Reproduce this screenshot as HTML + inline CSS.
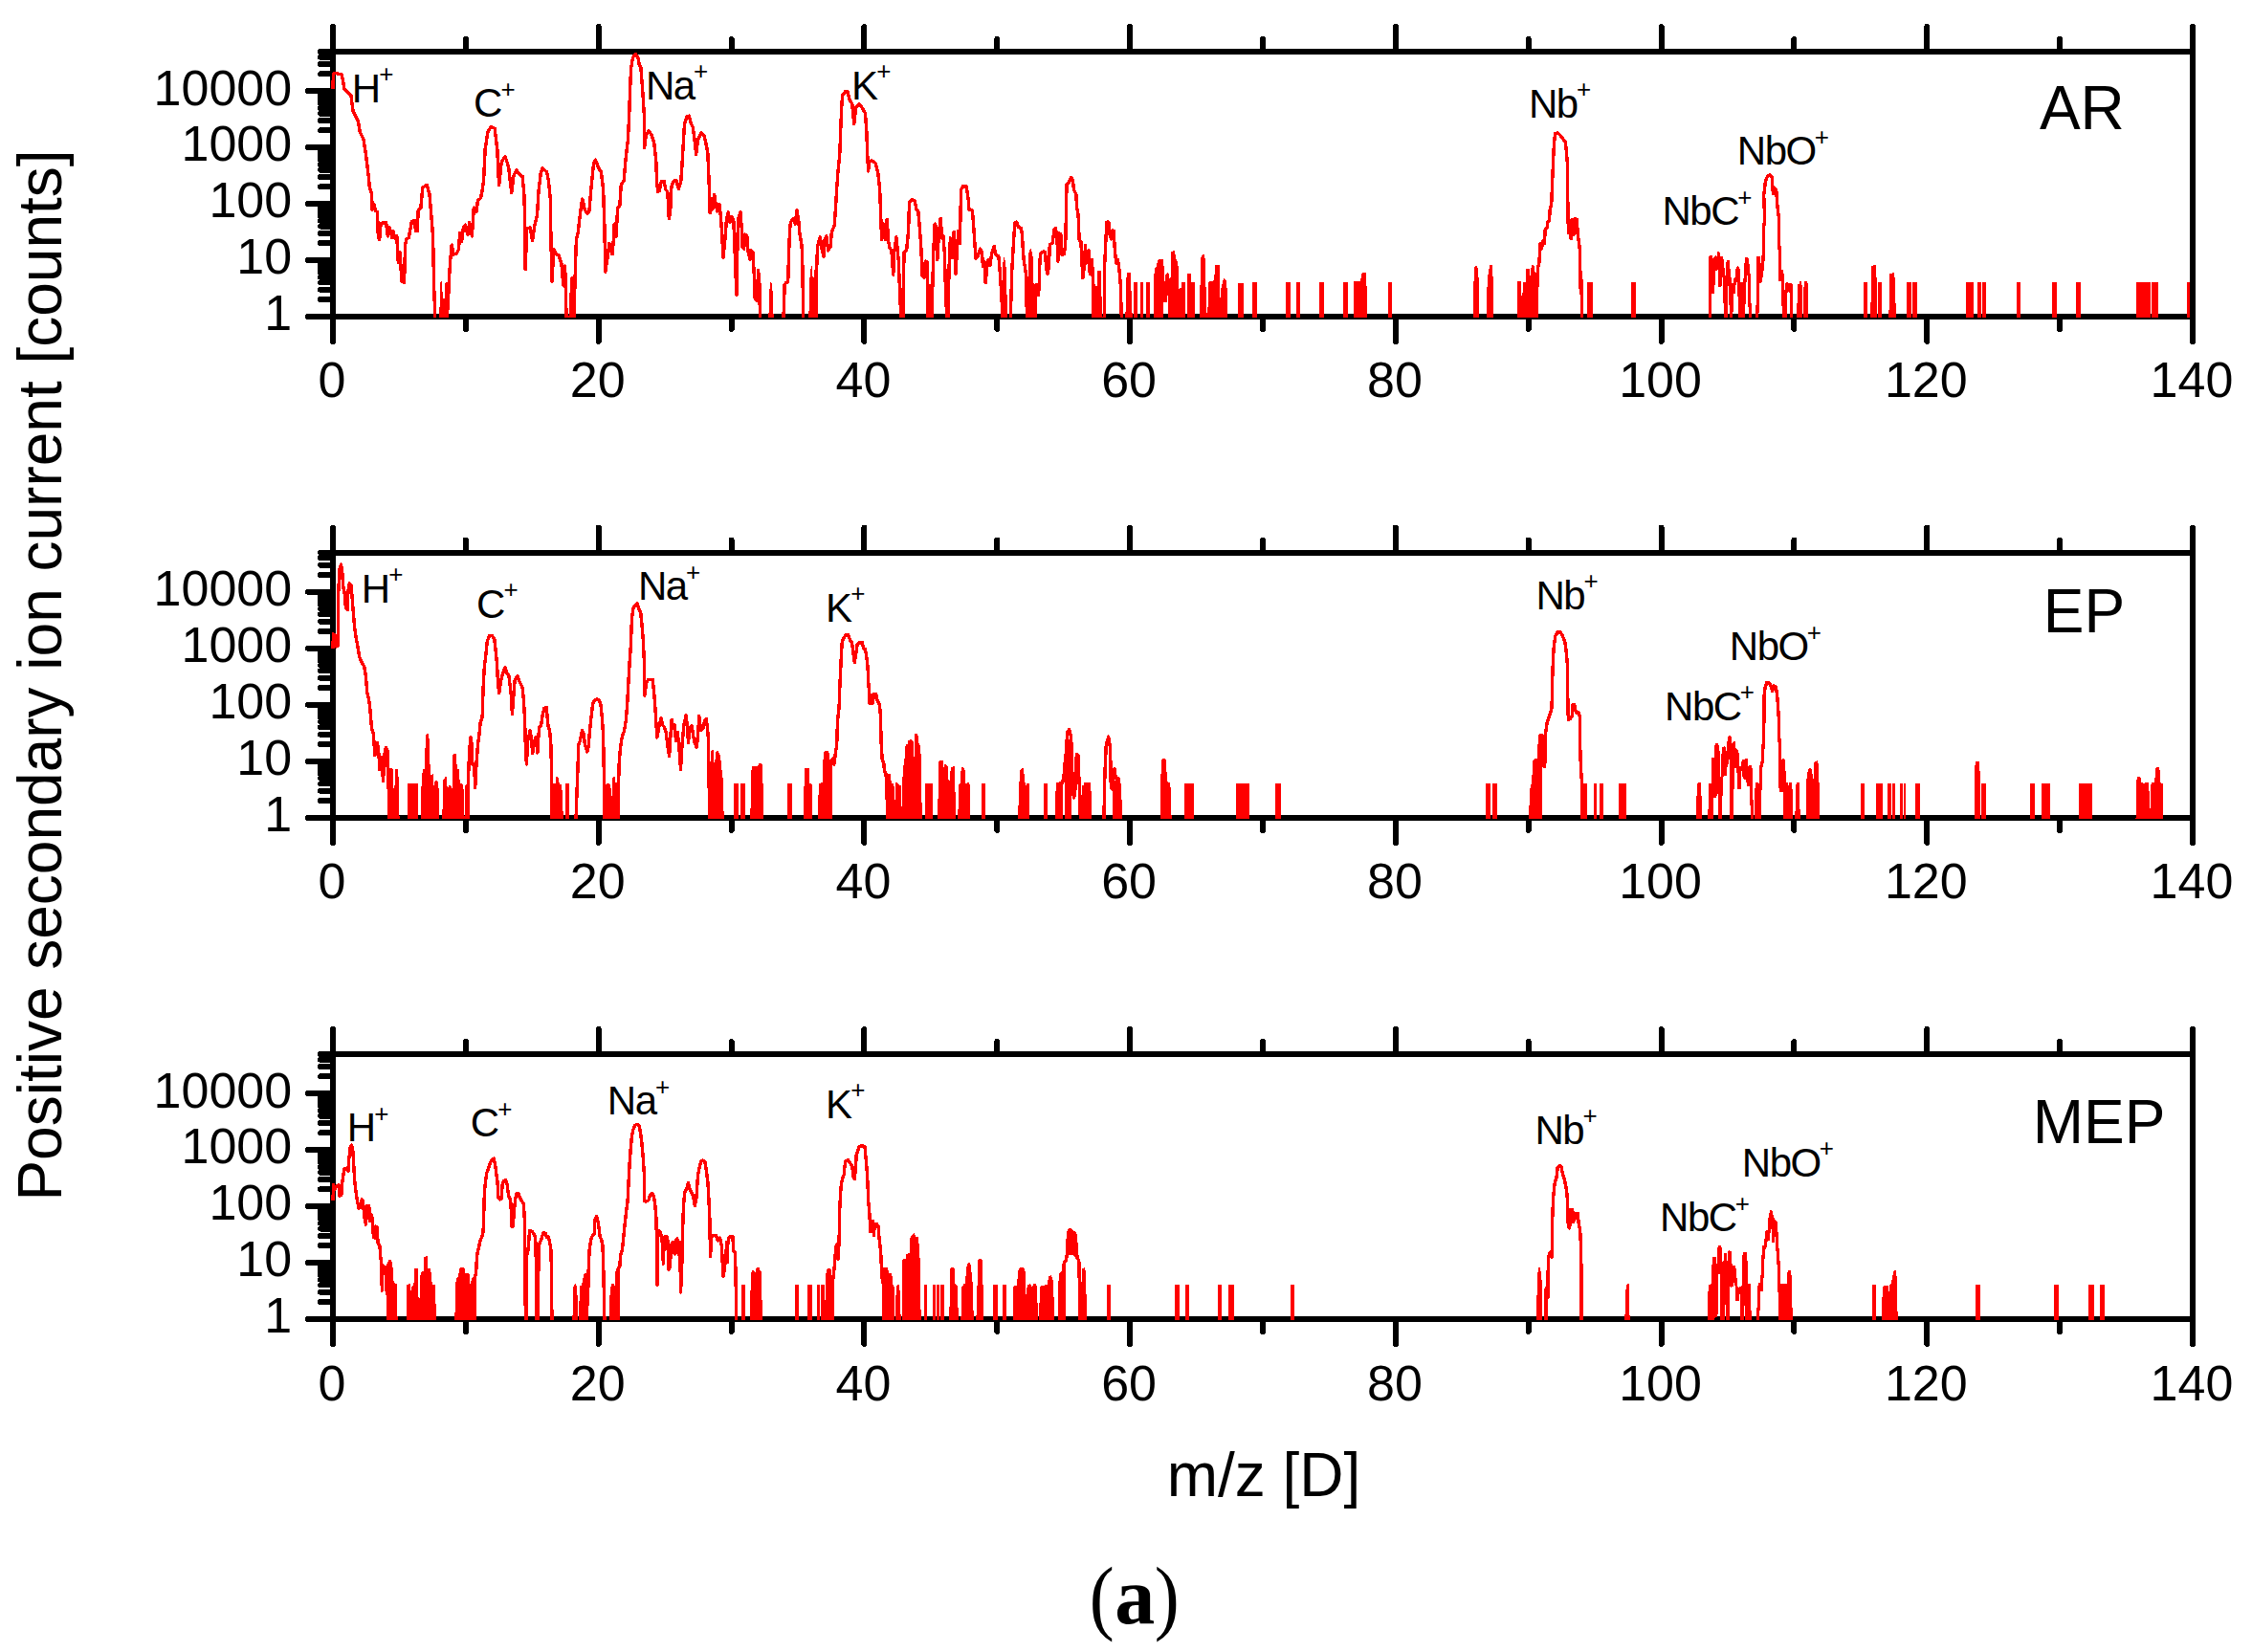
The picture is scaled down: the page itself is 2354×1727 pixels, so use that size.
<!DOCTYPE html>
<html lang="en"><head><meta charset="utf-8"><title>Positive secondary ion current spectra</title>
<style>html,body{margin:0;padding:0;background:#fff}svg{display:block}text{font-family:"Liberation Sans", Arial, Helvetica, sans-serif;fill:#000}.tk{font-size:52px}.an{font-size:42px;letter-spacing:-1.5px}.sup{font-size:26px;letter-spacing:0}.ttl{font-size:64px}.ax{stroke:#000;stroke-width:6;stroke-linecap:round;fill:none}.sp{stroke:#f00;stroke-width:3.4;fill:none;stroke-linejoin:round;stroke-linecap:butt}.br{fill:#f00;stroke:none}.sf{stroke:#f00;stroke-width:1.6;fill:none;stroke-linejoin:round}</style></head><body>
<svg width="2354" height="1727" viewBox="0 0 2354 1727">
<rect x="0" y="0" width="2354" height="1727" fill="#fff"/>
<defs>
<clipPath id="c0"><rect x="346" y="51" width="1946" height="282.9"/></clipPath>
<clipPath id="c1"><rect x="346" y="574.5" width="1946" height="283.4"/></clipPath>
<clipPath id="c2"><rect x="346" y="1099" width="1946" height="282.9"/></clipPath>
</defs>
<path class="ax" shape-rendering="crispEdges" d="M348 54H2292V330.9H348ZM348 54V28M348 330.9V356.9M486.9 54V41M486.9 330.9V343.9M625.7 54V28M625.7 330.9V356.9M764.6 54V41M764.6 330.9V343.9M903.4 54V28M903.4 330.9V356.9M1042.3 54V41M1042.3 330.9V343.9M1181.1 54V28M1181.1 330.9V356.9M1320 54V41M1320 330.9V343.9M1458.9 54V28M1458.9 330.9V356.9M1597.7 54V41M1597.7 330.9V343.9M1736.6 54V28M1736.6 330.9V356.9M1875.4 54V41M1875.4 330.9V343.9M2014.3 54V28M2014.3 330.9V356.9M2153.1 54V41M2153.1 330.9V343.9M2292 54V28M2292 330.9V356.9M348 330.9H322M348 313.2H335M348 302.8H335M348 295.4H335M348 289.7H335M348 285H335M348 281.1H335M348 277.7H335M348 274.7H335M348 272H322M348 254.2H335M348 243.9H335M348 236.5H335M348 230.8H335M348 226.1H335M348 222.2H335M348 218.8H335M348 215.7H335M348 213H322M348 195.3H335M348 184.9H335M348 177.6H335M348 171.9H335M348 167.2H335M348 163.2H335M348 159.8H335M348 156.8H335M348 154.1H322M348 136.4H335M348 126H335M348 118.6H335M348 112.9H335M348 108.3H335M348 104.3H335M348 100.9H335M348 97.9H335M348 95.2H322M348 77.4H335M348 67.1H335M348 59.7H335M348 54H335"/>
<path class="ax" shape-rendering="crispEdges" d="M348 577.5H2292V854.9H348ZM348 577.5V551.5M348 854.9V880.9M486.9 577.5V564.5M486.9 854.9V867.9M625.7 577.5V551.5M625.7 854.9V880.9M764.6 577.5V564.5M764.6 854.9V867.9M903.4 577.5V551.5M903.4 854.9V880.9M1042.3 577.5V564.5M1042.3 854.9V867.9M1181.1 577.5V551.5M1181.1 854.9V880.9M1320 577.5V564.5M1320 854.9V867.9M1458.9 577.5V551.5M1458.9 854.9V880.9M1597.7 577.5V564.5M1597.7 854.9V867.9M1736.6 577.5V551.5M1736.6 854.9V880.9M1875.4 577.5V564.5M1875.4 854.9V867.9M2014.3 577.5V551.5M2014.3 854.9V880.9M2153.1 577.5V564.5M2153.1 854.9V867.9M2292 577.5V551.5M2292 854.9V880.9M348 854.9H322M348 837.1H335M348 826.7H335M348 819.4H335M348 813.6H335M348 809H335M348 805H335M348 801.6H335M348 798.6H335M348 795.9H322M348 778.1H335M348 767.7H335M348 760.3H335M348 754.6H335M348 749.9H335M348 746H335M348 742.6H335M348 739.5H335M348 736.8H322M348 719.1H335M348 708.7H335M348 701.3H335M348 695.6H335M348 690.9H335M348 686.9H335M348 683.5H335M348 680.5H335M348 677.8H322M348 660H335M348 649.6H335M348 642.3H335M348 636.5H335M348 631.9H335M348 627.9H335M348 624.5H335M348 621.5H335M348 618.8H322M348 601H335M348 590.6H335M348 583.2H335M348 577.5H335"/>
<path class="ax" shape-rendering="crispEdges" d="M348 1102H2292V1378.9H348ZM348 1102V1076M348 1378.9V1404.9M486.9 1102V1089M486.9 1378.9V1391.9M625.7 1102V1076M625.7 1378.9V1404.9M764.6 1102V1089M764.6 1378.9V1391.9M903.4 1102V1076M903.4 1378.9V1404.9M1042.3 1102V1089M1042.3 1378.9V1391.9M1181.1 1102V1076M1181.1 1378.9V1404.9M1320 1102V1089M1320 1378.9V1391.9M1458.9 1102V1076M1458.9 1378.9V1404.9M1597.7 1102V1089M1597.7 1378.9V1391.9M1736.6 1102V1076M1736.6 1378.9V1404.9M1875.4 1102V1089M1875.4 1378.9V1391.9M2014.3 1102V1076M2014.3 1378.9V1404.9M2153.1 1102V1089M2153.1 1378.9V1391.9M2292 1102V1076M2292 1378.9V1404.9M348 1378.9H322M348 1361.2H335M348 1350.8H335M348 1343.4H335M348 1337.7H335M348 1333H335M348 1329.1H335M348 1325.7H335M348 1322.7H335M348 1320H322M348 1302.2H335M348 1291.9H335M348 1284.5H335M348 1278.8H335M348 1274.1H335M348 1270.2H335M348 1266.8H335M348 1263.7H335M348 1261H322M348 1243.3H335M348 1232.9H335M348 1225.6H335M348 1219.9H335M348 1215.2H335M348 1211.2H335M348 1207.8H335M348 1204.8H335M348 1202.1H322M348 1184.4H335M348 1174H335M348 1166.6H335M348 1160.9H335M348 1156.3H335M348 1152.3H335M348 1148.9H335M348 1145.9H335M348 1143.2H322M348 1125.4H335M348 1115.1H335M348 1107.7H335M348 1102H335"/>
<text class="tk" x="347" y="415.3" text-anchor="middle">0</text>
<text class="tk" x="624.7" y="415.3" text-anchor="middle">20</text>
<text class="tk" x="902.4" y="415.3" text-anchor="middle">40</text>
<text class="tk" x="1180.1" y="415.3" text-anchor="middle">60</text>
<text class="tk" x="1457.9" y="415.3" text-anchor="middle">80</text>
<text class="tk" x="1735.6" y="415.3" text-anchor="middle">100</text>
<text class="tk" x="2013.3" y="415.3" text-anchor="middle">120</text>
<text class="tk" x="2291" y="415.3" text-anchor="middle">140</text>
<text class="tk" x="305.2" y="345.2" text-anchor="end">1</text>
<text class="tk" x="305.2" y="286.3" text-anchor="end">10</text>
<text class="tk" x="305.2" y="227.3" text-anchor="end">100</text>
<text class="tk" x="305.2" y="168.4" text-anchor="end">1000</text>
<text class="tk" x="305.2" y="109.5" text-anchor="end">10000</text>
<text class="tk" x="347" y="938.7" text-anchor="middle">0</text>
<text class="tk" x="624.7" y="938.7" text-anchor="middle">20</text>
<text class="tk" x="902.4" y="938.7" text-anchor="middle">40</text>
<text class="tk" x="1180.1" y="938.7" text-anchor="middle">60</text>
<text class="tk" x="1457.9" y="938.7" text-anchor="middle">80</text>
<text class="tk" x="1735.6" y="938.7" text-anchor="middle">100</text>
<text class="tk" x="2013.3" y="938.7" text-anchor="middle">120</text>
<text class="tk" x="2291" y="938.7" text-anchor="middle">140</text>
<text class="tk" x="305.2" y="869.2" text-anchor="end">1</text>
<text class="tk" x="305.2" y="810.2" text-anchor="end">10</text>
<text class="tk" x="305.2" y="751.1" text-anchor="end">100</text>
<text class="tk" x="305.2" y="692.1" text-anchor="end">1000</text>
<text class="tk" x="305.2" y="633.1" text-anchor="end">10000</text>
<text class="tk" x="347" y="1463.8" text-anchor="middle">0</text>
<text class="tk" x="624.7" y="1463.8" text-anchor="middle">20</text>
<text class="tk" x="902.4" y="1463.8" text-anchor="middle">40</text>
<text class="tk" x="1180.1" y="1463.8" text-anchor="middle">60</text>
<text class="tk" x="1457.9" y="1463.8" text-anchor="middle">80</text>
<text class="tk" x="1735.6" y="1463.8" text-anchor="middle">100</text>
<text class="tk" x="2013.3" y="1463.8" text-anchor="middle">120</text>
<text class="tk" x="2291" y="1463.8" text-anchor="middle">140</text>
<text class="tk" x="305.2" y="1393.2" text-anchor="end">1</text>
<text class="tk" x="305.2" y="1334.3" text-anchor="end">10</text>
<text class="tk" x="305.2" y="1275.3" text-anchor="end">100</text>
<text class="tk" x="305.2" y="1216.4" text-anchor="end">1000</text>
<text class="tk" x="305.2" y="1157.5" text-anchor="end">10000</text>
<g clip-path="url(#c0)" shape-rendering="crispEdges">
<path class="br" d="M459.9 332.4L461.3 295.1L462.8 332.4ZM463.8 332.4L464.6 312.4L465.7 332.4ZM459.9 332.4V312.4H469.3V332.4ZM804.1 332.4L805.6 295.5L807.3 308.6L807.8 332.4ZM846.1 332.4L847.4 289.9L848.5 278.7L849.6 332.4ZM850.4 332.4L851.7 282.4L852.6 332.4ZM942.5 332.4L943.2 301.1L944 332.4ZM971.2 332.4L972 297.4L973.5 332.4ZM1048.4 332.4L1049.4 269.4L1051.2 282.4L1052.2 332.4ZM846.1 332.4V289.9H853.5V332.4ZM1074.5 332.4L1075.9 265.7L1077.2 261L1078.6 265.7L1079.6 289.9L1080.5 332.4ZM1143.6 332.4L1144.3 297.4L1145.4 332.4ZM1146.5 332.4L1147.7 283.4L1149.9 283.4L1151 319.7L1151.8 332.4ZM1177.1 332.4L1177.9 308.6L1178.4 286.2L1181.2 286.2L1182.2 319.7L1183.1 332.4ZM1223.7 332.4L1224.1 297.4L1225.1 263.8L1226.9 262.9L1228.8 271.3L1230.6 275L1231.6 297.4L1232.5 332.4ZM1254.3 332.4L1255.4 295.5L1256.2 269.4L1257.7 266.6L1259.2 271.3L1259.9 310.4L1261 332.4ZM1262.9 332.4L1264.2 295.1L1267 295.1L1269.8 292.7L1271.1 277.8L1274.5 277.8L1274.8 325.3L1276.3 323.5L1277.3 301.1L1279.7 291.8L1281.6 294.6L1282.3 332.4ZM1415.3 332.4L1415.8 295.1L1422.7 295.1L1424 286.2L1427 285.8L1427.8 301.1L1428.3 332.4ZM1207.3 332.4L1208.3 282.4L1210.1 279.6L1212 272.2L1214.4 272.2L1215.7 291.8L1215.7 332.4ZM1184.6 332.4V295.1H1188.7V332.4ZM1191.5 332.4V295.1H1194.7V332.4ZM1198 332.4V295.1H1202.1V332.4ZM1233.1 332.4V301.1H1235.3V332.4ZM1235.3 332.4V295.1H1239.4V332.4ZM1240.5 332.4V286.2H1245V332.4ZM1245 332.4V294.6H1249.3V332.4ZM1264.8 332.4V295.1H1269.3V332.4ZM1277.8 332.4V293.6H1281.6V332.4ZM1293.5 332.4V295.9H1296.5V332.4ZM1296.9 332.4V295.9H1300.2V332.4ZM1309 332.4V295.1H1313.6V332.4ZM1344.4 332.4V295.1H1349.4V332.4ZM1354.7 332.4V295.1H1359.3V332.4ZM1378.5 332.4V295.1H1383.6V332.4ZM1403.5 332.4V295.1H1409.1V332.4ZM1416.2 332.4V295.1H1419.9V332.4ZM1420.3 332.4V295.1H1423.3V332.4ZM1450.7 332.4V295.1H1455V332.4ZM1072.1 332.4V289H1074.9V332.4ZM1141.7 332.4V299.2H1146.2V332.4ZM1540.6 332.4L1541.2 297.4L1541.9 279.6L1543.4 278.7L1544.5 282.4L1545.3 312.3L1545.6 332.4ZM1554.6 332.4L1555 304.8L1556.5 284.3L1558 277.8L1559.3 277.8L1559.8 291.8L1560.6 332.4ZM1586.7 332.4L1586.9 294.6L1589.1 294.6L1590 316L1591.5 325.3L1592.8 295.5L1594.1 295.5L1595.3 310.4L1596 281.5L1598.4 281.5L1599.4 301.1L1600.9 280.6L1602.2 277.8L1603.5 278.7L1604.6 304.8L1605.9 332.4ZM1555.5 332.4V301.1H1558V332.4ZM1587.8 332.4V295.1H1590V332.4ZM1591.9 332.4V295.5H1594.7V332.4ZM1596.6 332.4V282.4H1599.4V332.4ZM1600.3 332.4V279.6H1604V332.4ZM1659.4 332.4V295.1H1664.6V332.4ZM1705.3 332.4V295.1H1709.8V332.4ZM1956.1 332.4L1956.8 278.7L1959.8 277.8L1960.6 282.4L1961.3 332.4ZM1975.1 332.4L1975.5 316L1976.2 286.5L1979.6 286.2L1980.3 310.4L1981.6 332.4ZM1948.1 332.4V295.1H1952.4V332.4ZM1963 332.4V295.1H1967.3V332.4ZM1992.8 332.4V295.1H1997.5V332.4ZM1998.6 332.4V295.1H2003.5V332.4ZM2055.3 332.4V295.1H2062.8V332.4ZM2067.4 332.4V295.1H2071V332.4ZM2072.1 332.4V295.1H2076.2V332.4ZM2107.5 332.4V295.1H2112.2V332.4ZM2144.5 332.4V295.1H2149.5V332.4ZM2170 332.4V295.1H2174.7V332.4ZM2233.4 332.4V295.1H2240.9V332.4ZM2240.9 332.4V295.1H2248.3V332.4ZM2249.3 332.4V295.1H2256.4V332.4ZM2285.6 332.4V295.1H2289.4V332.4ZM1785.1 332.4L1786.3 330.7L1786.3 268.4L1787.5 267L1789.8 267L1790 270.1L1793.1 267.4L1793.9 267.4L1795.1 268L1795.2 263.3L1796.8 263.2L1797.8 264.6L1797.9 268.4L1800.8 268.4L1801.1 271.1L1801.9 271.4L1802 280.2L1803.1 280.2L1803.2 288L1803.9 288L1804.2 274.1L1805.3 272.4L1807.6 272.4L1808 281.3L1809 281.5L1809.2 290.1L1810 290.4L1810.1 295.8L1812 295.8L1812.4 291.1L1813.9 290.1L1814.2 281.3L1815.3 279.6L1816.4 278.2L1817.8 279.6L1818.8 281.3L1818.9 295.2L1822.2 295L1822.3 291.1L1823.2 290.7L1823.4 275.2L1824.2 274.8L1824.4 269.1L1826.9 269.1L1828 270.4L1828.2 276.2L1828.8 276.3L1829 286L1829.8 286.3L1830 316.8L1830.9 317.2L1831 332.4L1828 332.4L1827.8 320.9L1827.3 320.6L1827.1 288L1826.3 288L1825.9 294.5L1825.1 294.8L1824.8 317.5L1824.1 317.9L1823.9 332.4L1817.5 332.4L1817.1 310.1L1816.2 309.7L1816.1 295.2L1815.1 295.2L1814.7 297.9L1813.9 298.2L1813.7 306.7L1812.4 306.7L1811.9 325.7L1811 326L1810.7 332.4L1808.3 332.4L1808 319.2L1807.2 318.9L1806.9 299.2L1805.9 299.2L1805.8 332.4L1802.4 332.4L1802 316.8L1801.2 316.5L1801.1 290.1L1799.8 290.1L1799.7 298.9L1798.8 299.9L1796.1 299.9L1796.1 282.6L1795.4 282.3L1794.7 283.3L1793.1 282.3L1792.9 297.5L1792 297.9L1791.8 306.7L1789 306.8L1788.8 332.4ZM1835.1 332.4L1835.2 319.2L1836.1 318.9L1836.3 268.4L1839.8 268.2L1840 274.8L1841.1 274.8L1841.2 267.4L1842.2 267L1842.2 233.1L1843.2 232.8L1843.2 226L1845.9 226L1845.9 235.8L1844.9 236.2L1844.9 272.8L1843.9 273.1L1843.8 282.6L1842.9 282.9L1842.7 289.7L1841.9 290.1L1841.7 294.8L1840.5 295.8L1839 295.8L1838.8 326.7L1838.1 327L1837.9 332.4ZM1858.1 226L1860.8 226L1861 257.2L1861.9 257.5L1862.1 281.9L1863.9 282.1L1864.1 286L1864.9 286.3L1865.1 302.9L1866.3 302.6L1866.4 296.5L1867.6 295.2L1869 295.2L1869.3 296.2L1873.1 296.2L1874.1 297.2L1874.1 332.4L1871 332.4L1871 306.3L1869.7 305L1868 306.3L1868 332.4L1863 332.4L1862.9 319.9L1862.1 319.6L1861.9 293.8L1859.2 293.7L1858.9 260.9L1858.1 260.6ZM1878.1 332.4L1878.1 317.2L1879 316.8L1879.2 297.2L1880.5 296.8L1880.6 294.1L1882.9 294.1L1883.1 297.9L1883.9 298.5L1884 332.4ZM1885.1 332.4L1885.1 299.9L1886.3 299.6L1886.5 294.1L1888.8 294.1L1889 295.8L1889.9 296.2L1889.9 332.4Z"/>
<path class="sf" d="M459.9 332.4L461.3 295.1L462.8 332.4M463.8 332.4L464.6 312.4L465.7 332.4M804.1 332.4L805.6 295.5L807.3 308.6L807.8 332.4M846.1 332.4L847.4 289.9L848.5 278.7L849.6 332.4M850.4 332.4L851.7 282.4L852.6 332.4M942.5 332.4L943.2 301.1L944 332.4M971.2 332.4L972 297.4L973.5 332.4M1048.4 332.4L1049.4 269.4L1051.2 282.4L1052.2 332.4M1074.5 332.4L1075.9 265.7L1077.2 261L1078.6 265.7L1079.6 289.9L1080.5 332.4M1143.6 332.4L1144.3 297.4L1145.4 332.4M1146.5 332.4L1147.7 283.4L1149.9 283.4L1151 319.7L1151.8 332.4M1177.1 332.4L1177.9 308.6L1178.4 286.2L1181.2 286.2L1182.2 319.7L1183.1 332.4M1223.7 332.4L1224.1 297.4L1225.1 263.8L1226.9 262.9L1228.8 271.3L1230.6 275L1231.6 297.4L1232.5 332.4M1254.3 332.4L1255.4 295.5L1256.2 269.4L1257.7 266.6L1259.2 271.3L1259.9 310.4L1261 332.4M1262.9 332.4L1264.2 295.1L1267 295.1L1269.8 292.7L1271.1 277.8L1274.5 277.8L1274.8 325.3L1276.3 323.5L1277.3 301.1L1279.7 291.8L1281.6 294.6L1282.3 332.4M1415.3 332.4L1415.8 295.1L1422.7 295.1L1424 286.2L1427 285.8L1427.8 301.1L1428.3 332.4M1540.6 332.4L1541.2 297.4L1541.9 279.6L1543.4 278.7L1544.5 282.4L1545.3 312.3L1545.6 332.4M1554.6 332.4L1555 304.8L1556.5 284.3L1558 277.8L1559.3 277.8L1559.8 291.8L1560.6 332.4M1586.7 332.4L1586.9 294.6L1589.1 294.6L1590 316L1591.5 325.3L1592.8 295.5L1594.1 295.5L1595.3 310.4L1596 281.5L1598.4 281.5L1599.4 301.1L1600.9 280.6L1602.2 277.8L1603.5 278.7L1604.6 304.8L1605.9 332.4M1956.1 332.4L1956.8 278.7L1959.8 277.8L1960.6 282.4L1961.3 332.4M1975.1 332.4L1975.5 316L1976.2 286.5L1979.6 286.2L1980.3 310.4L1981.6 332.4"/>
<path class="sp" d="M348 92.7L348.4 77.2L350.9 76.3L357.3 78.1L360 92.7L366.9 99.9L369.1 116.3L374.5 127.2L376.3 138.1L380 145.3L382.7 163.5L385.4 185.3L386.3 196.2L388.7 203.4L389 219.8L390.8 213.4L392.7 220.7L394.5 221.6L395.4 248.8L396.7 250.7L398.1 233.4L403.6 232.5L405.4 247L407.2 237.9L409.9 248.8L410.8 241.6L412.6 248.8L414.8 247L416.3 274.3L418.1 263.4L419.9 294.2L422.6 295.1L423.5 256.1L425 249.7L427.2 248.8L430.4 231.6L433.5 230.7L434.4 241.6L436.2 241.6L437.2 219.8L439.9 217.1L441.7 196.2L446.2 193.4L449 203.4L450.8 225.2L452.6 247L453.5 294.2L454.8 332.4M466.4 332.4L467.1 296.1L468.2 323.3L469.3 294.2L470.7 272.4L472.2 256.1L474 266.1L477.1 265.2L479.5 260.6L480.7 243.4L482.6 252.5L484.4 237.9L486.2 235.2L488.9 245.2L490.7 232.5L493.4 247L495.3 217.1L498 221.6L499.4 209.8L502.5 207.1L504.3 198L505.6 188.9L507.1 156.2L509.8 138.1L513.4 132.3L517.1 134.4L519.8 156.2L521.6 193.4L524.3 168.9L528 163.5L531.6 174.4L534.7 201.6L537 183.5L539.8 178L542.5 181.6L546.1 184.4L547.9 203.4L548.8 237.9L549.2 281.5L550.7 238.8L554.3 237.9L556.5 251.6L558.8 236.1L561.5 225.2L563 199.8L565.2 181.6L567 175.8L571.5 179.8L573.4 188.9L575.2 207.1L576.1 257.9L577 294.2L578.8 260.6L581.5 266.1L584.2 267L587 276.1L588.8 297.9L590.6 277.9L592.1 332.4M596.1 332.4L597.9 290.6L599.3 332.4M600 332.4L601.1 290.6L602.4 250.7L604.2 243.4L606.9 219.8L608.8 208L611.5 219.8L614.2 223.4L616 219.8L617.8 198L620.6 170.7L622.4 167.1L626 176.2L628.4 179.8L630.6 198L632 239.8L632.7 284.2L635.1 268.8L636.9 254.3L640 267M640 266.6L641.5 248.9L642.2 234L644.1 247L645.6 217.2L647.8 215.3L649.3 192.9L652.1 189.2L654 166.8L656.4 146.3L657.7 120.2L658.6 94.1L659.6 71.7L661.4 60.5L664.2 56.4L667 60.5L668.3 68L669.8 69.8L671.7 94.1L673.2 118.3L673.6 154.7L675.4 140.7L678.2 137L681.4 141.6L683.8 150L685.7 166.8L686.6 189.2L687.6 200.4L689.4 199.5L691.3 189.2L694.1 189.2L695.9 198.5L697.8 200.4L699.3 228.4L700.6 222.8L701.9 194.8L704.3 189.2L706.8 188.3L709.4 197.6L711.8 189.2L713.1 170.5L714.6 144.4L715.5 129.5L718 122.1L720.2 121.1L722.1 128.6L724.3 133.2L725.8 144.4L727.7 161.2L729.5 146.3L733.2 138.8L736 141.6L737.9 150L739.8 159.4L741.1 189.2L742.2 222.8L743.5 207.8L744.8 219L746.7 203.2L748.2 213.4L750 220.9L751.9 213.4L753.4 226.5L754.7 245.1L756 269.4L757.5 254.5L759.4 230.2L761.2 221.8L763.1 232.1L765 226.5L766.8 230.2L767.8 254.5L769.1 288L770 308.6L771.1 245.1L772 228.4L773.9 221.8L775.2 237.7L776.1 258.2L777.6 260.1L778.9 245.1L780.8 247L782.1 263.8L784 271.3L785.5 261.9L787 263.8L788.3 288L789.2 312.3L791.4 314.2L792.6 282.4L793.9 297.4L794.4 332.4M819 332.4L820.2 297.4L821.8 295.5L823.7 294.6L824.6 263.8L825.6 239.6L826.5 232.1L829.3 228.4L831.2 234L833 220L834.9 232.1L835.8 243.3L837.7 254.5L838.6 263.8L839.2 301.1L839.6 332.4M853 332.4L853.5 286.2L854.5 258.2L856.3 250.7L857.3 247.9L859.1 260.1L861 268.5L861.9 250.7L863.8 247L865.7 261.9L867.9 258.2L869.4 242.3L872.2 235.8L873.5 217.2L874.6 198.5L875.9 179.9L877.8 161.2L878.7 137L879.6 114.6L880.6 99.7L883.4 95.9L886.2 95.9L888 104.3L890.8 109L892.7 129.5L894.6 112.7L898.3 109L901.1 112.7L904.5 118.3L905.8 137L906.7 161.2L907.6 178.9L908.6 168.7L911.4 167.8L915.1 170.5L917.9 181.7L919.7 198.5L920.7 226.5L921.6 250.7L923.5 234L925.3 250.7L927.2 229.3L928.7 252.6L930 259.1L931.9 261.9L933.7 287.1L934.7 263.8L936.9 247.9L938.4 263.8L939.3 273.1L940.6 304.8L941.8 332.4M944.4 332.4L944.9 263.8L947.7 261L949.6 241.4L950.5 211.6L953.3 208.8L956.1 209.7L958 219L959.8 220.9L961.1 235.8L962.6 254.5L964.1 288L966 289.9L967.3 273.1L969.2 274.1L970.1 332.4M974.2 332.4L974.8 301.1L975.7 263.8L977.2 234L978.5 237.7L979.8 271.3L981.3 245.1L983.2 228.4L984.6 248.9L986 247L987.3 263.8L988.4 301.1L989.7 332.4M991 332.4L992.1 278.7L993.4 248.9L995.3 269.4L997.1 242.3L999 286.2L1000.3 263.8L1001.8 241.4L1003.3 254.5L1004.6 198.5L1006.5 194.8L1010.2 194.8L1012.1 207.8L1013 219L1016.4 220L1017.7 235.8L1018.6 250.7L1020.1 270.3L1022.3 267.5L1024.6 260.1L1026.4 263.8L1027.5 278.7L1028.8 273.1L1030.2 295.5L1031.6 280.6L1033.1 271.3L1035 276.9L1036.9 263.8L1039.1 257.3L1041 266.6L1043.8 267.5L1045.1 282.4L1046.6 304.8L1048.1 332.4M1056.3 332.4L1057.8 282.4L1060 245.1M1060 245.1L1060.9 233L1062.8 232.1L1064.7 237.7L1067.5 238.6L1068.4 245.1L1069.3 260.1L1070.3 273.1L1071.6 280.6L1072.7 288L1073.4 332.4M1082 332.4L1082.8 298.3L1084.2 297.4L1085.2 308.6L1086.1 301.1L1087 271.3L1088 264.7L1090.8 262.9L1092.6 263.8L1093.6 280.6L1095.1 286.2L1096.4 278.7L1097.3 255.4L1100.1 254.5L1102 239.6L1103.3 238.6L1104.8 245.1L1105.9 273.1L1106.6 243.3L1108.9 245.1L1110 266.6L1112.2 265.7L1113.7 256.3L1114.5 219L1115 192.9L1116.9 191.1L1119.7 185.5L1121.5 189.2L1122.5 198.5L1124.9 203.2L1125.6 217.2L1127.1 224.6L1128.1 250.7L1129.9 252.6L1131.8 290.8L1133.1 280.6L1134.6 256.3L1135.5 275L1138 261.9L1139.3 286.2L1141.1 271.3L1142.1 282.4L1143 332.4M1154.2 332.4L1154.7 276.9L1156 248.9L1157 232.1L1158.8 232.1L1159.8 245.1L1161.6 249.8L1162.9 240.5L1164.1 241.4L1165.4 261.9L1166.7 275L1168.5 271.3L1170 282.4L1171.3 297.4L1172.3 332.4M1207.3 332.4L1208.3 282.4L1210.1 279.6L1212 272.2L1214.4 272.2L1215.7 291.8L1216.7 314.2L1218.5 314.2L1219.5 288L1220.4 287.1L1221.9 301.1L1223.2 332.4M1606.4 332.4L1606.8 301.1L1607.4 278.7L1608.7 276.9L1609.6 263.8L1610.2 254.5L1611.5 260.1L1612.8 251.7L1614.3 254.5L1615.2 240.5L1617.1 237.7L1618 232.1L1619.5 230.2L1620.2 219L1621.7 213.4L1622.7 189.2L1623.6 166.8L1624.5 150L1625.5 139.8L1628.3 138.8L1631.1 141.6L1633.9 145.4L1636.3 148.2L1637.6 161.2L1638.5 172.4L1638.9 222.8L1639.5 243.3L1640.8 230.2L1641.5 247L1642.3 249.8L1643 230.2L1643.7 229.3L1644.5 245.1L1645.1 245.1L1645.6 229.3L1646.4 228.4L1647.1 243.3L1648.2 229.3L1649.3 245.1L1650.6 254.5L1651.6 262.9L1652 301.1L1653.1 292.7L1653.4 332.4M1844.6 228.7L1843.7 204.1L1845.5 189.2L1847.4 184.5L1850.2 182.7L1852.1 184.5L1853.4 202.3L1854.9 196.7L1856.7 198.5L1857.7 213.4L1859.5 228.7"/>
</g>
<g clip-path="url(#c1)" shape-rendering="crispEdges">
<path class="br" d="M411.2 856.4L411.8 825.1L413.1 825.1L414.2 804.6L415.5 804.6L416.1 825.1L416.8 856.4ZM440.3 856.4L441.6 812L442.9 804.6L444.1 828.8L444.8 793.4L445.9 769.1L447.2 767.3L448.5 778.5L449.1 838.2L450 851.2L451 811.1L452.3 810.2L453.4 856.4ZM453.8 856.4L454.1 821.4L455.3 817.6L456.6 816.7L457.9 825.1L458.6 856.4ZM463.1 856.4L464 815.8L465.9 813L466.8 823.2L467.8 836.3L469.1 823.2L470.5 821.4L472 825.1L472.8 856.4ZM473.2 856.4L473.5 825.1L474.3 788.7L476.1 788.7L477.1 806.4L478 843.7L478.9 804.6L480.2 821.4L481.4 856.4ZM481.7 856.4L482.1 819.5L483.6 821.4L484.7 856.4ZM486.2 856.4L487.3 821.4L488.3 820.4L489.2 856.4ZM577.8 856.4L578.7 819.5L580.2 819.5L581 832.6L582.1 813L583.4 813.9L584.3 825.1L585.8 820.4L587.1 828.8L588 856.4ZM632.8 856.4L633.7 820.4L636.5 819.5L638 825.1L639.3 856.4ZM639.9 856.4L640.6 813.9L642.1 813L643.6 825.1L644.4 856.4ZM742.5 856.4L742.8 843.7L743.8 785.9L745.1 785L746.2 806.4L746.9 843.7L747.7 843.7L748.4 786.9L750.3 785.9L752.2 789.7L753.7 804.6L755 815.8L755.9 856.4ZM426.2 856.4V819.1H429.5V856.4ZM430.3 856.4V819.1H437.4V856.4ZM590.8 856.4V819.1H595.1V856.4ZM741 856.4V797.1H744.7V856.4ZM748.4 856.4V806.4H755V856.4ZM405.3 856.4V825.1H410.5V856.4ZM645.1 856.4V813.9H647.7V856.4ZM785.2 856.4L785.7 808.3L787 801.8L792.6 801.8L793.6 799L795.8 799L796.6 812L797.3 856.4ZM840.6 856.4L841.7 803.6L844.9 803.6L845.8 843.7L846.2 819.5L848 820.4L848.6 856.4ZM855.5 856.4L856.2 832.6L857 819.5L858.8 819.1L859.8 856.4ZM928.2 856.4L928.8 810.2L930.6 810.2L931.6 856.4ZM932.3 856.4L933.1 819.5L934.4 825.1L934.9 856.4ZM935.7 856.4L936.8 819.1L938.7 819.5L939.4 832.6L940.9 821.4L941.8 856.4ZM942.8 856.4L943.7 832.6L944.6 802.7L946.1 797.1L946.9 780.3L948.4 778.5L949.3 813.9L950.2 774.7L952.1 773.8L954 775.7L954.7 797.1L955.4 830.7L956.2 797.1L956.8 768.2L958.6 767.7L959.6 776.6L961.4 780.3L962.3 800.9L962.9 856.4ZM981 856.4L981.9 796.2L985.3 795.3L986 815.8L987.5 799.9L989.8 800.9L990.9 817.6L993.1 818.6L994.6 802.7L997.2 801.8L998.3 856.4ZM1002.1 856.4L1002.8 821.4L1004.3 819.5L1005.2 806.4L1006.2 802.7L1007.7 804.6L1008.4 825.1L1009.9 819.5L1012.7 819.1L1013.6 856.4ZM1064.9 856.4L1065.9 821.4L1067.3 805.5L1069.2 803.6L1070.5 817.6L1071.8 821.4L1072.4 856.4ZM1130.2 856.4L1132.6 825.1L1133.9 819.1L1139.5 819.1L1140.5 856.4ZM860.3 856.4L860.7 832.6L861.6 806.4L862.6 786.9L864.8 786.9L865.9 802.7L866.7 813.9L868.2 800.9L869.1 794.3L870 794.3L870 856.4ZM767.1 856.4V819.1H771.6V856.4ZM774 856.4V819.1H778.6V856.4ZM786.1 856.4V804.6H791.7V856.4ZM792.1 856.4V801.8H796.6V856.4ZM822.5 856.4V819.1H827.5V856.4ZM842.1 856.4V806.4H845V856.4ZM946.5 856.4V787.8H954V856.4ZM956.9 856.4V784.1H961.8V856.4ZM967 856.4V819.1H970.7V856.4ZM971.1 856.4V819.1H975.4V856.4ZM982.9 856.4V799H985.7V856.4ZM988.5 856.4V819.5H993.1V856.4ZM993.5 856.4V804.6H998.3V856.4ZM1003.4 856.4V821.4H1008V856.4ZM1009.5 856.4V819.1H1013.3V856.4ZM1025.8 856.4V819.1H1030.4V856.4ZM1073.3 856.4V819.1H1076.1V856.4ZM1090.5 856.4V819.1H1094.8V856.4ZM1106 856.4V819.1H1110.6V856.4ZM1131.1 856.4V821.4H1135.2V856.4ZM1135.8 856.4V819.1H1140.1V856.4ZM1162.8 856.4V815.8H1170.3V856.4ZM1113.4 856.4V772.9H1119.6V856.4ZM1213.6 856.4L1214.5 797.1L1215.4 793.4L1218.2 794.3L1219.2 817.6L1222.5 819.1L1223.3 832.6L1223.8 856.4ZM1214.3 856.4V796.2H1218.8V856.4ZM1219.2 856.4V819.5H1223.3V856.4ZM1238.2 856.4V819.1H1242.8V856.4ZM1242.8 856.4V819.1H1247.5V856.4ZM1292.3 856.4V819.1H1296.9V856.4ZM1296.9 856.4V819.1H1301.6V856.4ZM1301.6 856.4V819.1H1305.9V856.4ZM1333.3 856.4V819.1H1338.5V856.4ZM1553.4 856.4V819.1H1557.7V856.4ZM1560.1 856.4V819.1H1565.1V856.4ZM1888.4 856.4L1889.3 813.9L1890.6 804.6L1892.5 803.6L1894 810.2L1894.9 819.5L1895.5 856.4ZM1895.9 856.4L1896.2 815.8L1897.3 797.1L1899.6 796.2L1900.5 808.3L1901.5 856.4ZM1599.7 856.4L1600.8 825.1L1602.1 821.4L1603.1 812L1604 796.2L1605.9 794.3L1606.8 810.2L1607.7 821.4L1608.6 828.8L1608.6 856.4ZM1603.1 856.4V799H1606.8V856.4ZM1609.4 856.4V771H1612.4V856.4ZM1654.3 856.4V819.1H1658.6V856.4ZM1665.5 856.4V819.1H1669.3V856.4ZM1672.1 856.4V819.1H1676.2V856.4ZM1692.2 856.4V819.1H1695.6V856.4ZM1696.3 856.4V819.1H1699.7V856.4ZM1896.6 856.4V800.9H1900.7V856.4ZM1944.7 856.4V819.1H1949V856.4ZM1960.8 856.4V819.1H1964.5V856.4ZM1964.5 856.4V819.1H1968.2V856.4ZM1973.3 856.4V819.1H1977.2V856.4ZM1977.5 856.4V819.1H1981.3V856.4ZM1986.3 856.4V819.1H1988.7V856.4ZM1989.5 856.4V819.1H1991.9V856.4ZM2002.2 856.4V819.1H2006.8V856.4ZM2064.5 856.4L2064.8 811L2065.5 796.4L2068.1 796.8L2069 811L2069.5 856.4ZM2233.3 856.4L2233.7 816.4L2235.2 812.8L2237 813.2L2237.9 819.1L2240.2 820.1L2241 830.9L2242.4 818.6L2245.1 818.6L2246.1 832.8L2247 850.9L2247.9 856.4ZM2248.2 856.4L2248.8 821.9L2250 818.6L2251.5 818.6L2253 821.9L2253.7 803.7L2254.8 802.3L2256.6 802.3L2257.3 818.2L2260.2 820.1L2260.6 856.4ZM2071.4 856.4V818.6H2075.7V856.4ZM2122.2 856.4V818.6H2126.6V856.4ZM2133.5 856.4V818.6H2137.5V856.4ZM2138.2 856.4V818.6H2142.9V856.4ZM2172.5 856.4V818.6H2177V856.4ZM2177.4 856.4V818.6H2181.8V856.4ZM2182.1 856.4V818.6H2186.5V856.4ZM2234.2 856.4V818.2H2239.7V856.4ZM2242.1 856.4V819.1H2245.7V856.4ZM2249.3 856.4V819.1H2253.3V856.4ZM2253.7 856.4V803.7H2256.9V856.4ZM2256.9 856.4V820.1H2260.2V856.4ZM1773.1 856.4L1773.1 832.4L1774.1 832L1774.2 819.2L1775.4 818.1L1778 818.1L1778.1 832L1778.8 832.4L1778.9 856.4ZM1785.1 856.4L1785.1 846.3L1786.3 845.9L1786.3 819.2L1789.3 819.2L1789.3 792.4L1792 792.4L1792.4 779.8L1793.4 777.1L1795.8 777.1L1796.8 779.8L1797.7 786.6L1797.8 811.7L1799.2 812L1799.2 791.4L1800.2 781.2L1802.2 780.2L1803.9 781.2L1804.2 785.3L1805.3 784.9L1805.3 776.1L1806.3 769.7L1808 769L1810 770.3L1810.3 777.1L1812.4 775.4L1813.9 775.4L1814.1 781.2L1816.8 784.2L1817.8 788.3L1818 800.8L1820.2 800.8L1820.3 797.1L1821.2 794.4L1823.9 794.1L1824.2 793.1L1826.8 793.1L1827.1 800.8L1828.3 800.2L1830.9 800.2L1831.4 803.6L1831.8 803.2L1832 836.1L1832.7 836.4L1833.1 856.4L1830 856.4L1830 841.9L1829.3 841.5L1829.1 821.9L1826.3 821.9L1825.6 817.8L1824.6 815.1L1822.5 814.4L1821.2 811.7L1820.8 806.3L1820 806.3L1819.8 824.6L1816.1 824.6L1816.1 808L1815.1 807.6L1814.7 802.9L1813.1 802.9L1812.8 824.6L1812 824.9L1812 856.4L1808 856.4L1808 794.1L1806.9 794.1L1806.6 798.5L1805.6 798.8L1805.3 809L1804.6 810.7L1802.2 811L1800.8 813.7L1800.8 832.4L1799.8 832.7L1799.8 856.4L1796.1 856.4L1796.1 830.3L1795.1 830.3L1793.7 833.7L1791.7 834.1L1790.7 836.1L1790.7 856.4ZM1834.1 856.4L1834.3 824.2L1835.1 823.9L1835.2 818.1L1837.8 818.1L1838.5 819.2L1839 818.8L1839.2 800.2L1840.2 799.8L1840.2 796.1L1841.2 796.1L1841.2 778.1L1842.2 777.8L1842.2 753.1L1843.6 752.7L1843.6 750L1845.9 750L1845.9 755.8L1844.9 756.1L1844.9 782.9L1843.9 783.2L1843.8 797.8L1842.9 798.1L1842.5 801.9L1841.9 802.2L1841.7 825.6L1841.1 825.9L1840.8 856.4ZM1858.1 750L1860.8 750L1861 772L1861.9 772.4L1862.1 794.1L1863.2 793.4L1864.6 793.1L1865.9 794.4L1866.1 805.9L1866.8 806.3L1866.9 817.8L1868.6 818.1L1869.1 820.8L1870 820.8L1870.2 818.1L1872.9 818.1L1873.1 824.6L1873.9 825.3L1874.1 856.4L1863.9 856.4L1863.9 828L1860.2 827.8L1860 823.9L1859.2 823.6L1858.9 776.1L1858.1 775.8ZM1876.1 856.4L1876.1 848L1877 847.6L1877.1 820.2L1878.5 818.1L1880.8 818.1L1881.1 845.9L1881.9 846.3L1882 856.4Z"/>
<path class="sf" d="M411.2 856.4L411.8 825.1L413.1 825.1L414.2 804.6L415.5 804.6L416.1 825.1L416.8 856.4M440.3 856.4L441.6 812L442.9 804.6L444.1 828.8L444.8 793.4L445.9 769.1L447.2 767.3L448.5 778.5L449.1 838.2L450 851.2L451 811.1L452.3 810.2L453.4 856.4M453.8 856.4L454.1 821.4L455.3 817.6L456.6 816.7L457.9 825.1L458.6 856.4M463.1 856.4L464 815.8L465.9 813L466.8 823.2L467.8 836.3L469.1 823.2L470.5 821.4L472 825.1L472.8 856.4M473.2 856.4L473.5 825.1L474.3 788.7L476.1 788.7L477.1 806.4L478 843.7L478.9 804.6L480.2 821.4L481.4 856.4M481.7 856.4L482.1 819.5L483.6 821.4L484.7 856.4M486.2 856.4L487.3 821.4L488.3 820.4L489.2 856.4M577.8 856.4L578.7 819.5L580.2 819.5L581 832.6L582.1 813L583.4 813.9L584.3 825.1L585.8 820.4L587.1 828.8L588 856.4M632.8 856.4L633.7 820.4L636.5 819.5L638 825.1L639.3 856.4M639.9 856.4L640.6 813.9L642.1 813L643.6 825.1L644.4 856.4M742.5 856.4L742.8 843.7L743.8 785.9L745.1 785L746.2 806.4L746.9 843.7L747.7 843.7L748.4 786.9L750.3 785.9L752.2 789.7L753.7 804.6L755 815.8L755.9 856.4M785.2 856.4L785.7 808.3L787 801.8L792.6 801.8L793.6 799L795.8 799L796.6 812L797.3 856.4M840.6 856.4L841.7 803.6L844.9 803.6L845.8 843.7L846.2 819.5L848 820.4L848.6 856.4M855.5 856.4L856.2 832.6L857 819.5L858.8 819.1L859.8 856.4M928.2 856.4L928.8 810.2L930.6 810.2L931.6 856.4M932.3 856.4L933.1 819.5L934.4 825.1L934.9 856.4M935.7 856.4L936.8 819.1L938.7 819.5L939.4 832.6L940.9 821.4L941.8 856.4M942.8 856.4L943.7 832.6L944.6 802.7L946.1 797.1L946.9 780.3L948.4 778.5L949.3 813.9L950.2 774.7L952.1 773.8L954 775.7L954.7 797.1L955.4 830.7L956.2 797.1L956.8 768.2L958.6 767.7L959.6 776.6L961.4 780.3L962.3 800.9L962.9 856.4M981 856.4L981.9 796.2L985.3 795.3L986 815.8L987.5 799.9L989.8 800.9L990.9 817.6L993.1 818.6L994.6 802.7L997.2 801.8L998.3 856.4M1002.1 856.4L1002.8 821.4L1004.3 819.5L1005.2 806.4L1006.2 802.7L1007.7 804.6L1008.4 825.1L1009.9 819.5L1012.7 819.1L1013.6 856.4M1064.9 856.4L1065.9 821.4L1067.3 805.5L1069.2 803.6L1070.5 817.6L1071.8 821.4L1072.4 856.4M1130.2 856.4L1132.6 825.1L1133.9 819.1L1139.5 819.1L1140.5 856.4M1213.6 856.4L1214.5 797.1L1215.4 793.4L1218.2 794.3L1219.2 817.6L1222.5 819.1L1223.3 832.6L1223.8 856.4M1888.4 856.4L1889.3 813.9L1890.6 804.6L1892.5 803.6L1894 810.2L1894.9 819.5L1895.5 856.4M1895.9 856.4L1896.2 815.8L1897.3 797.1L1899.6 796.2L1900.5 808.3L1901.5 856.4M2064.5 856.4L2064.8 811L2065.5 796.4L2068.1 796.8L2069 811L2069.5 856.4M2233.3 856.4L2233.7 816.4L2235.2 812.8L2237 813.2L2237.9 819.1L2240.2 820.1L2241 830.9L2242.4 818.6L2245.1 818.6L2246.1 832.8L2247 850.9L2247.9 856.4M2248.2 856.4L2248.8 821.9L2250 818.6L2251.5 818.6L2253 821.9L2253.7 803.7L2254.8 802.3L2256.6 802.3L2257.3 818.2L2260.2 820.1L2260.6 856.4"/>
<path class="sp" d="M348 677.8L348.4 662.8L350.3 664.7L351.6 675.9L353.4 675L353.8 618.1L354.9 595.7L356.4 590.1L357.7 597.6L358.6 612.5L360.1 619.9L361.4 634.9L363.3 637.7L363.9 618.1L365.2 609.7L367 611.6L368 623.7L369.5 642.3L370.8 657.2L372.1 666.6L373.6 674L375.8 687.1L378.2 692.7L380.7 696.4L382.5 707.6L383.8 724.4L385.7 731.8L387 743L388.5 761.7L390.4 767.3L391.8 789.7L393.2 787.8L394.5 776.6L395.9 787.8L396.9 804.6L398.2 791.5L399.7 806.4L400.6 816.7L401.5 791.5L403.4 781.3L404.9 784.1L405.6 823.2L407.1 827L408.1 804.6L409.4 805.5L410.5 856.4M489.4 856.4L489.8 806.4L490.7 784.1L492 771L492.9 776.6L493.9 799L495.7 800.9L496.7 823.2L498.1 797.1L499.5 778.5L500.8 769.1L502.3 754.2L504.1 750.5L505.1 718.8L506.4 696.4L507.8 685.2L509.3 670.3L511.6 664.7L514.4 664.3L516.8 668.4L518.1 679.6L519.4 692.7L520.5 713.2L521.8 724.4L523.7 711.3L525.6 703.9L528 697.3L529.9 703.9L531.7 705.7L533 715.1L534.3 726.3L535.4 746.8L536.8 728.1L538.1 711.3L541 706.7L543.3 713.2L546.1 718.8L547.4 731.8L548.5 750.5L549.3 778.5L550.4 799L551.7 774.7L554.1 763.6L555.4 771L556.7 787.8L558.2 776.6L560.1 771L561.9 786.9L562.9 769.1L563.8 759.8L565.7 758L567.2 746.8L569 740.2L571.3 739.3L572.2 750.5L573.1 759.8L574.6 763.6L575.9 778.5L576.5 806.4L576.9 856.4M602 856.4L603 828.8L603.9 806.4L604.8 778.5L606.3 774.7L608.6 763.6L610 766.3L611.4 778.5L613.8 785.9L615.1 780.3L616.4 765.4L617.9 750.5L619.4 737.4L620.7 732.8L623.5 730.9L626.3 731.8L628.1 737.4L629.4 750.5L630.6 769.1L631.3 806.4L631.9 856.4M645.1 856.4L645.9 821.4L646.8 812L647.3 795.3L648.7 780.3L650.5 769.1L652.4 764.5L654.2 754.2L655.6 737.4L656.7 716.9L658 694.5L659.3 675.9L660.4 647.9L661.7 636.7L663.6 633L666 631.1L667.9 636.7L669.7 640.5L671 653.5L672.3 668.4L673.5 694.5L673.8 727.2L675.7 713.2L677.9 710.4L682.2 710.4L683.5 722.5L684.6 735.6L686 758L686.9 771L688.8 759.8L691 750.5L692.5 758L694.3 759.8L696.2 765.4L697.7 778.5L699.6 790.6L700.9 769.1L702.2 752.4L703.7 761.7L705.2 758L706.5 774.7L708.3 765.4L710.2 785.9L711.5 804.6L713 778.5L714.9 758L717.1 747.7L718.6 761.7L719.5 776.6L720.8 761.7L723.3 758.9L724.6 769.1L726 776.6L728.3 781.3L729.8 765.4L730.7 748.6L732.6 763.6L735 761.7L736.3 754.2L738.2 751.4L739.5 761.7L740.6 774.7L741 813.9L741.9 856.4M860.3 856.4L860.7 832.6L861.6 806.4L862.6 786.9L864.8 786.9L865.9 802.7L866.7 813.9L868.2 800.9L869.1 794.3L871 792.5L871.9 799L873.4 786.9L874.7 778.5L875.3 759.8L876 748.6L877.1 739.3L877.9 716.9L878.6 702L879.4 685.2L880.3 670.3L882.2 666.6L884 663.8L886.8 663.8L888.7 669.4L890.5 671.2L892 683.4L893.3 692.7L894.7 683.4L896.1 674L898 671.8L901.4 671.8L902.7 677.8L904.5 678.7L905.8 687.1L907 696.4L907.7 713.2L908.8 726.3L909.2 735.6L911.1 726.3L912 735.6L913.9 725.3L915.7 725.3L917 731.8L919.5 737.4L920.4 748.6L921.3 780.3L922.3 795.3L923.7 796.2L924.5 806.4L926 808.3L926.9 825.1L927.8 856.4M1104.6 856.4L1105.4 819.5L1110.6 818.6L1112.1 810.2L1113.4 795.3L1114.7 784.1L1115.8 765.4L1117.7 762.6L1119.6 771L1120.3 787.8L1121.4 828.8L1122.7 834L1124 825.1L1124.6 795.3L1125.5 788.7L1127 789.7L1127.8 812L1128.9 832.6L1129.3 856.4M1153.9 856.4L1155 806.4L1156.3 778.5L1158.7 770.1L1160.6 782.2L1161.3 823.2L1162.8 825.1L1163.2 804.6L1165.1 803.6L1166.2 813.9L1169.4 813.9L1170.3 825.1L1171.8 856.4M1599.7 856.4L1600.8 825.1L1602.1 821.4L1603.1 812L1604 796.2L1605.9 794.3L1606.8 810.2L1607.7 821.4L1608.6 828.8L1609 780.3L1610.1 768.2L1612 768.2L1612.8 787.8L1614.2 801.8L1615.2 795.3L1615.7 765.4L1617 756.1L1618.9 750.5L1620.8 744.9L1622.1 739.3L1622.6 713.2L1623.6 685.2L1624.5 674L1625.8 664.7L1628.2 661L1631 660.6L1633.3 664.7L1635.7 670.3L1636.6 675.9L1637.6 685.2L1638.5 696.4L1638.9 739.3L1639.4 752.4L1641.3 751.4L1643.2 748.6L1644.1 736.5L1645.6 736.5L1646.9 743L1648.2 745.8L1650.1 744.9L1651.2 748.6L1651.5 774.7L1652.5 804.6L1653.4 815.8L1653.8 856.4M1844 752.7L1844 728.1L1845.1 718.8L1847 713.2L1849.2 714.1L1851.1 716.9L1852.6 722.5L1853.9 716.9L1856.3 717.9L1857.6 726.3L1858.6 739.3L1859.5 752.7"/>
</g>
<g clip-path="url(#c2)" shape-rendering="crispEdges">
<path class="br" d="M425.8 1380.4L426.3 1343.5L428 1343.1L429.1 1352.8L429.9 1380.4ZM430.5 1380.4L431 1345.4L433.2 1343.5L434.2 1326.7L436 1326.3L437 1367.7L437.9 1380.4ZM438.8 1380.4L439.8 1334.2L441.1 1330.4L443.5 1329.5L444.1 1314.6L445.9 1314L446.7 1326.7L449.1 1326.7L450 1332.3L451 1343.5L453.8 1343.5L454.5 1356.6L455.3 1380.4ZM599.2 1380.4L600 1345.4L601.5 1343.1L602.6 1349.1L603.3 1380.4ZM404.3 1380.4L404.3 1352.8L405.3 1337.9L406.2 1321.1L407.5 1318.3L408.6 1321.1L409.4 1336L410.5 1343.1L413.1 1343.1L413.9 1380.4ZM477.1 1380.4L477.6 1347.2L478.4 1337.9L479.9 1337L481.4 1330.4L482.1 1326.7L484 1326.3L484.7 1336L486.4 1332.3L488.8 1332.3L489.6 1345.4L491.4 1344.4L493.3 1343.5L494.4 1337.9L496.3 1336L497.6 1330.4L497.6 1380.4ZM606.7 1380.4L607.6 1345.4L609.5 1344.4L610.8 1337.9L612.3 1332.3L613.2 1356.6L614.5 1364L614.5 1380.4ZM638.8 1380.4L639.3 1349.1L640.6 1343.5L641.8 1349.1L642.5 1367.7L643.6 1356.6L644.9 1330.4L646.2 1325.8L647.7 1324.9L647.7 1380.4ZM409 1380.4V1343.1H414.2V1380.4ZM440.7 1380.4V1332.3H444.4V1380.4ZM444.8 1380.4V1328.6H450V1380.4ZM450.4 1380.4V1344.4H454.5V1380.4ZM477.6 1380.4V1338.8H481.7V1380.4ZM481.7 1380.4V1334.2H489.2V1380.4ZM489.2 1380.4V1345.4H495.2V1380.4ZM640.3 1380.4V1352.8H645.9V1380.4ZM784.6 1380.4L785.7 1332.3L787 1328.6L788.3 1329.5L789.5 1349.1L790.2 1330.4L791.3 1325.8L793.6 1325.8L794.5 1345.4L795.4 1349.1L796.4 1380.4ZM936.8 1380.4L937.5 1345.4L939.4 1343.5L940.2 1356.6L940.9 1380.4ZM943.7 1380.4L944.3 1317.4L946.1 1316.5L946.9 1351.9L948 1311.8L949.9 1310.9L950.6 1345.4L951.7 1343.5L952.1 1294.1L954 1291.3L955.4 1289.8L956.8 1295L958.1 1296.9L959.6 1298.7L960.5 1311.8L961.4 1326.7L961.8 1380.4ZM993.1 1380.4L993.9 1326.7L995.4 1325.8L996.9 1326.3L997.8 1343.5L1000.2 1344.4L1001 1380.4ZM1005.2 1380.4L1006.2 1345.4L1008 1343.1L1009 1349.1L1010.3 1334.2L1011.4 1323L1012.7 1320.7L1014 1323L1015.1 1334.2L1015.9 1341.6L1017 1380.4ZM1021.1 1380.4L1022 1356.6L1023 1317.8L1024.5 1316.5L1026.3 1317.4L1027.1 1367.7L1027.6 1380.4ZM1059.3 1380.4L1060.3 1345.4L1062.1 1344.4L1063.6 1345.4L1064.4 1336L1065.5 1326.7L1067.3 1325.8L1070 1326.3L1071.1 1330.4L1071.5 1360.3L1072.4 1380.4ZM1072.9 1380.4L1073.3 1352.8L1074.8 1343.5L1076.7 1343.1L1077.4 1356.6L1079.3 1345.4L1080.8 1343.1L1082.6 1343.1L1083.6 1356.6L1084.1 1380.4ZM1086.7 1380.4L1087.9 1345.4L1093.8 1343.9L1095.7 1343.5L1096.6 1335.1L1098.5 1334.2L1099.8 1337.9L1100.9 1360.3L1101.7 1380.4ZM1130.8 1380.4L1131.1 1343.5L1132.1 1326.7L1133.4 1326.3L1134.5 1339.8L1135.2 1380.4ZM863.5 1380.4L864.1 1364L864.8 1334.2L865.9 1327.6L867.2 1327.6L868.2 1337.9L869.1 1349.1L869.7 1364L870.4 1341.6L871.5 1330.4L871.9 1326.7L871.9 1380.4ZM921.5 1380.4L921.5 1326.7L922.3 1337.9L923.4 1343.1L924.1 1326.7L926.4 1326.7L927.5 1330.4L928.2 1334.2L929 1349.1L929.3 1375.2L930.1 1332.3L931.2 1336L932 1345.4L933.1 1346.3L933.4 1380.4ZM1107.3 1380.4L1108 1341.6L1109.1 1331.4L1111 1330.4L1112.5 1319.3L1114.3 1318.3L1114.3 1380.4ZM1115.3 1311.8L1115.8 1298.7L1117.1 1287.6L1118.4 1285.7L1119.9 1286.6L1121.4 1289.4L1123.3 1289L1124.6 1293.1L1125.2 1309L1126.5 1315.5L1125.5 1317.4L1121.8 1311.8L1118.1 1311.8ZM774.5 1380.4V1343.1H778.6V1380.4ZM785.4 1380.4V1330.4H789.1V1380.4ZM789.8 1380.4V1327.6H792.1V1380.4ZM793.9 1380.4V1328.6H795.8V1380.4ZM830.5 1380.4V1343.1H834.6V1380.4ZM843.9 1380.4V1343.1H848.6V1380.4ZM854.2 1380.4V1343.1H857.4V1380.4ZM858.1 1380.4V1343.1H861.6V1380.4ZM864.4 1380.4V1329.5H867.8V1380.4ZM868.2 1380.4V1349.1H871.9V1380.4ZM924.5 1380.4V1328.6H927.8V1380.4ZM930.1 1380.4V1347.2H933.1V1380.4ZM944.6 1380.4V1318.3H946.5V1380.4ZM947.6 1380.4V1312.7H950.2V1380.4ZM952.5 1380.4V1293.1H959.9V1380.4ZM965.5 1380.4V1343.1H969.3V1380.4ZM974.5 1380.4V1343.1H978.2V1380.4ZM978.6 1380.4V1343.1H982.3V1380.4ZM982.9 1380.4V1343.1H986.6V1380.4ZM994.2 1380.4V1327.6H997.2V1380.4ZM997.6 1380.4V1345.4H1000.6V1380.4ZM1038.3 1380.4V1343.1H1042.5V1380.4ZM1047.6 1380.4V1343.1H1052.4V1380.4ZM1069.6 1380.4V1328.6H1071.8V1380.4ZM1074.2 1380.4V1344.4H1077V1380.4ZM1079.8 1380.4V1344.4H1083.6V1380.4ZM1088.2 1380.4V1345.4H1095.7V1380.4ZM1096.3 1380.4V1336H1100.4V1380.4ZM1108 1380.4V1332.3H1113.4V1380.4ZM1127 1380.4V1319.3H1129.3V1380.4ZM1131.5 1380.4V1327.6H1134.5V1380.4ZM1156.9 1380.4V1343.1H1161.3V1380.4ZM1227.6 1380.4V1343.1H1232.6V1380.4ZM1238.7 1380.4V1343.1H1243.4V1380.4ZM1273.2 1380.4V1343.1H1277.4V1380.4ZM1284.4 1380.4V1343.1H1289.7V1380.4ZM1348.8 1380.4V1343.1H1353.4V1380.4ZM1606.4 1380.4L1607.2 1358.4L1607.9 1332.3L1609 1325.8L1610.1 1330.4L1610.9 1339.8L1611.6 1380.4ZM1698.5 1380.4L1699.7 1371.5L1700.4 1345.4L1701.9 1342.6L1702.3 1371.5L1703.4 1380.4ZM1967.7 1380.4L1968.6 1345.4L1973.3 1344.4L1974.2 1367.7L1975.7 1344.4L1977.5 1342.6L1978.8 1336L1979.8 1329.5L1981.3 1329L1982 1337L1982.8 1375.2L1983.5 1380.4ZM1615.2 1380.4L1615.7 1349.1L1617 1345.4L1618 1356.6L1618.3 1356.6L1618.3 1380.4ZM1607.5 1380.4V1330.4H1610.9V1380.4ZM1616.1 1380.4V1349.1H1618V1380.4ZM1956.5 1380.4V1343.1H1960.8V1380.4ZM1968.6 1380.4V1346.3H1970.5V1380.4ZM1975.1 1380.4V1344.4H1978.8V1380.4ZM1979 1380.4V1330.4H1982.4V1380.4ZM2064.5 1380.4V1342.6H2069.5V1380.4ZM2147.1 1380.4V1342.6H2151.6V1380.4ZM2183.4 1380.4V1342.6H2188.8V1380.4ZM2195.2 1380.4V1342.6H2200.3V1380.4ZM1785.1 1380.4L1785.3 1352L1786.3 1343.2L1789 1342.1L1789.3 1324.2L1790.2 1314L1793.7 1314L1794.1 1320.8L1795.1 1320.8L1795.2 1305.2L1796.1 1302.1L1798.8 1302.1L1799.8 1305.2L1799.8 1319.1L1801.9 1318.1L1802.2 1310.3L1804.9 1310.3L1805.3 1318.1L1806.3 1318.1L1806.3 1308.2L1807.3 1307.2L1809.7 1307.9L1810 1316L1810.7 1322.8L1813.7 1323.2L1814.7 1326.2L1815.1 1336L1816.1 1336.4L1816.4 1344.5L1817.5 1345.9L1820.2 1344.2L1820.8 1344.2L1821.2 1313L1822.2 1309.3L1825.9 1309.3L1826.3 1317.4L1826.9 1318.1L1826.9 1342.1L1830 1342.1L1830 1369.9L1831 1370.3L1831 1380.4L1824.2 1380.4L1824.2 1364.8L1822.9 1364.8L1822.9 1380.4L1818.8 1380.4L1818.8 1352.6L1817.8 1353L1817.8 1360.1L1814.1 1360.1L1814.1 1345.9L1812 1339.1L1811.7 1344.5L1810 1345.9L1808 1345.2L1808 1380.4L1804.2 1380.4L1804.2 1364.2L1803.2 1364.2L1803.2 1380.4L1797.8 1380.4L1797.8 1332.3L1796.1 1332.3L1795.9 1370.9L1795.1 1377.1L1792.4 1377.7L1792 1380.4ZM1836.1 1380.4L1836.3 1367.2L1837.1 1366.9L1837.5 1344.2L1838.1 1341.1L1840.2 1341.1L1840.2 1333L1841.2 1333L1841.2 1312.3L1842.2 1312L1842.2 1302.1L1844.2 1302.1L1844.2 1295.4L1845.3 1295L1845.3 1287.2L1846.3 1286.2L1848.3 1286.2L1848.3 1274L1849 1269.9L1850.3 1265.2L1852.4 1265.5L1853.7 1271.3L1855.4 1275.4L1857.8 1277.1L1858.1 1288.2L1858.9 1288.6L1859.2 1305.2L1860 1305.5L1860.2 1318.1L1860.8 1318.4L1861 1342.5L1862.5 1342.1L1863.9 1342.5L1864.9 1342.1L1868 1341.8L1868 1331.3L1869.3 1328.2L1871.7 1328.2L1872 1333L1873.1 1333.3L1873.1 1367.2L1873.9 1367.6L1873.9 1380.4L1858.9 1380.4L1858.9 1350.6L1858.1 1350.6L1857.8 1321.5L1857.1 1321.5L1856.8 1307.6L1856.1 1307.6L1856.1 1293.3L1854.7 1293.3L1854.7 1298.7L1852.4 1298.7L1852 1285.2L1851 1285.2L1851 1288.6L1850 1288.9L1849.9 1296.7L1847.3 1297.7L1846.9 1303.8L1845.3 1305.9L1844.9 1315.7L1843.9 1316L1843.6 1335.7L1842.9 1336L1842.9 1349.6L1840.2 1349.9L1839.8 1369.6L1839.2 1369.9L1839 1380.4Z"/>
<path class="sf" d="M425.8 1380.4L426.3 1343.5L428 1343.1L429.1 1352.8L429.9 1380.4M430.5 1380.4L431 1345.4L433.2 1343.5L434.2 1326.7L436 1326.3L437 1367.7L437.9 1380.4M438.8 1380.4L439.8 1334.2L441.1 1330.4L443.5 1329.5L444.1 1314.6L445.9 1314L446.7 1326.7L449.1 1326.7L450 1332.3L451 1343.5L453.8 1343.5L454.5 1356.6L455.3 1380.4M599.2 1380.4L600 1345.4L601.5 1343.1L602.6 1349.1L603.3 1380.4M784.6 1380.4L785.7 1332.3L787 1328.6L788.3 1329.5L789.5 1349.1L790.2 1330.4L791.3 1325.8L793.6 1325.8L794.5 1345.4L795.4 1349.1L796.4 1380.4M936.8 1380.4L937.5 1345.4L939.4 1343.5L940.2 1356.6L940.9 1380.4M943.7 1380.4L944.3 1317.4L946.1 1316.5L946.9 1351.9L948 1311.8L949.9 1310.9L950.6 1345.4L951.7 1343.5L952.1 1294.1L954 1291.3L955.4 1289.8L956.8 1295L958.1 1296.9L959.6 1298.7L960.5 1311.8L961.4 1326.7L961.8 1380.4M993.1 1380.4L993.9 1326.7L995.4 1325.8L996.9 1326.3L997.8 1343.5L1000.2 1344.4L1001 1380.4M1005.2 1380.4L1006.2 1345.4L1008 1343.1L1009 1349.1L1010.3 1334.2L1011.4 1323L1012.7 1320.7L1014 1323L1015.1 1334.2L1015.9 1341.6L1017 1380.4M1021.1 1380.4L1022 1356.6L1023 1317.8L1024.5 1316.5L1026.3 1317.4L1027.1 1367.7L1027.6 1380.4M1059.3 1380.4L1060.3 1345.4L1062.1 1344.4L1063.6 1345.4L1064.4 1336L1065.5 1326.7L1067.3 1325.8L1070 1326.3L1071.1 1330.4L1071.5 1360.3L1072.4 1380.4M1072.9 1380.4L1073.3 1352.8L1074.8 1343.5L1076.7 1343.1L1077.4 1356.6L1079.3 1345.4L1080.8 1343.1L1082.6 1343.1L1083.6 1356.6L1084.1 1380.4M1086.7 1380.4L1087.9 1345.4L1093.8 1343.9L1095.7 1343.5L1096.6 1335.1L1098.5 1334.2L1099.8 1337.9L1100.9 1360.3L1101.7 1380.4M1130.8 1380.4L1131.1 1343.5L1132.1 1326.7L1133.4 1326.3L1134.5 1339.8L1135.2 1380.4M1606.4 1380.4L1607.2 1358.4L1607.9 1332.3L1609 1325.8L1610.1 1330.4L1610.9 1339.8L1611.6 1380.4M1698.5 1380.4L1699.7 1371.5L1700.4 1345.4L1701.9 1342.6L1702.3 1371.5L1703.4 1380.4M1967.7 1380.4L1968.6 1345.4L1973.3 1344.4L1974.2 1367.7L1975.7 1344.4L1977.5 1342.6L1978.8 1336L1979.8 1329.5L1981.3 1329L1982 1337L1982.8 1375.2L1983.5 1380.4"/>
<path class="sp" d="M348 1254.9L348.6 1238.7L350.3 1242.8L352.1 1240L354 1239.1L354.9 1250.3L356.8 1249.3L357.7 1237.2L359 1227.9L360.1 1221.3L362 1222.3L363.9 1224.1L364.6 1213L366.1 1199.9L367.6 1197.1L368.9 1203.6L369.8 1218.5L370.8 1235.3L372.1 1246.5L373.6 1255.8L375.1 1263.3L376.9 1262.4L378.2 1254L379.5 1255.8L380.7 1270.8L382.5 1280.1L383.8 1260.5L385.7 1260.5L386.6 1276.4L388.1 1269.8L389.4 1274.5L390.4 1293.1L391.8 1294.1L392.6 1282L394.1 1282.9L395 1298.7L396.9 1302.5L397.8 1313.7L398.9 1323L399.3 1349.1L400.1 1323L401.9 1328.6L403.4 1324.9L404.3 1352.8L405.3 1337.9L406.2 1321.1L407.5 1318.3L408.6 1321.1L409.4 1336L410.5 1343.1L413.1 1343.1L413.9 1380.4M477.1 1380.4L477.6 1347.2L478.4 1337.9L479.9 1337L481.4 1330.4L482.1 1326.7L484 1326.3L484.7 1336L486.4 1332.3L488.8 1332.3L489.6 1345.4L491.4 1344.4L493.3 1343.5L494.4 1337.9L496.3 1336L497.6 1330.4L498.5 1313.7L499.5 1308.1L500.8 1302.5L501.9 1296.9L503.7 1293.1L505.1 1287.6L505.6 1272.6L506.4 1246.5L507.5 1235.3L508.8 1226L510.6 1221.3L512 1216.7L513.8 1213L516.2 1211.1L517.5 1216.7L518.7 1226L520 1235.3L520.9 1252.1L522.4 1254L524.3 1253.1L525 1239.1L526.5 1234.4L528.7 1233.5L530.2 1239.1L531.7 1250.3L533.6 1254L534.3 1265.2L534.9 1282L536.2 1282L537.3 1267L538.6 1254L539.9 1247.5L541.8 1247.5L543.3 1252.1L545.1 1254.9L547.4 1258.6L548.5 1278.2L548.9 1311.8L549.3 1380.4M550.4 1380.4L550.7 1311.8L552.2 1306.2L553.5 1286.6L556 1287.2L557.8 1289.4L559.7 1293.1L560.4 1321.1L561.2 1380.4M562.3 1380.4L562.9 1321.1L563.8 1300.6L565.7 1295.9L567.9 1288.5L570.3 1289.4L571.3 1293.1L573.5 1293.1L574.6 1298.7L575.9 1306.2L576.5 1330.4L576.9 1380.4M606.7 1380.4L607.6 1345.4L609.5 1344.4L610.8 1337.9L612.3 1332.3L613.2 1356.6L614.5 1364L615.1 1330.4L616 1308.1L617.5 1296.9L619.4 1291.3L621.2 1290.3L622 1274.5L623.5 1271.7L625 1276.4L626.3 1285.7L627.2 1293.1L628.7 1295.9L630 1302.5L630.9 1330.4L631.9 1380.4M638.8 1380.4L639.3 1349.1L640.6 1343.5L641.8 1349.1L642.5 1367.7L643.6 1356.6L644.9 1330.4L646.2 1325.8L647.7 1324.9L648.7 1311.8L650.5 1306.2L651.8 1293.1L653.3 1278.2L654.8 1265.2L656.1 1255.8L657 1237.2L658 1218.5L659.3 1199.9L660.4 1188.7L661.7 1181.2L663.6 1176.6L666 1175.3L668.2 1177.5L669.7 1185L671 1196.2L672.3 1211.1L673.5 1229.7L673.8 1255.8L675.7 1255.8L677.9 1254.9L679.4 1249.3L681.7 1247.5L683.2 1250.3L684.6 1257.7L686 1274.5L686.5 1302.5L686.9 1343.5L687.8 1293.1L689.1 1286.6L690.6 1289.4L692.1 1296.9L693.4 1321.1L694.3 1293.1L696.2 1292.2L697.7 1293.1L699 1327.6L700.3 1324.9L701.8 1300.6L703.7 1298.7L705.2 1310.9L706.5 1296.9L707.8 1295L709.3 1311.8L710.8 1298.7L711.5 1351L712.6 1330.4L713.4 1293.1L714.5 1259.6L715.8 1246.5L717.7 1242.8L719.5 1236.3L720.8 1242.8L722.7 1246.5L724.6 1250.3L726.4 1260.5L727.9 1252.1L729.4 1229.7L730.7 1222.3L732.6 1214.8L734.4 1213L736.9 1214.8L738.7 1226L740 1237.2L741 1255.8L741.9 1274.5L742.5 1313.7L743.8 1293.1L745.6 1291.3L748.4 1291.3L750.3 1296.9L752.5 1294.1L754.4 1302.5L755.9 1334.2L757.4 1326.7L758.7 1311.8L760 1296.9M760 1321.1L760.9 1298.7L762.2 1293.1L764.1 1292.2L766 1293.1L766.7 1308.1L768.4 1309L769 1330.4L769.7 1380.4M863.5 1380.4L864.1 1364L864.8 1334.2L865.9 1327.6L867.2 1327.6L868.2 1337.9L869.1 1349.1L869.7 1364L870.4 1341.6L871.5 1330.4L872.3 1323L873.4 1308.1L874.1 1302.5L875.3 1300.6L876 1316.5L877.1 1298.7L877.5 1274.5L877.9 1259.6L878.6 1248.4L879.4 1237.2L880.9 1231.6L882.2 1227.9L883.1 1218.5L884 1213.3L886.8 1213L889.1 1216.7L890.9 1219.5L892 1229.7L893.3 1232.5L894.3 1222.3L895.2 1207.4L896.5 1203.6L898 1199L900.8 1197.7L904 1198.4L904.7 1207.4L905.5 1214.8L906.4 1226L907 1237.2L907.7 1255.8L908.5 1263.3L909.2 1274.5L909.6 1287.6L910.7 1276.4L912.6 1276.4L913.3 1291.3L914.4 1279.2L916.3 1279.2L918.1 1282L918.9 1293.1L920 1302.5L920.8 1311.8L921.5 1326.7L922.3 1337.9L923.4 1343.1L924.1 1326.7L926.4 1326.7L927.5 1330.4L928.2 1334.2L929 1349.1L929.3 1375.2L930.1 1332.3L931.2 1336L932 1345.4L933.1 1346.3L933.4 1380.4M1107.3 1380.4L1108 1341.6L1109.1 1331.4L1111 1330.4L1112.5 1319.3L1114.3 1318.3L1115.3 1311.8L1115.8 1298.7L1117.1 1287.6L1118.4 1285.7L1119.9 1286.6L1121.4 1289.4L1123.3 1289L1124.6 1293.1L1125.2 1309L1126.5 1315.5L1127.8 1318.3L1128.3 1339.8L1129.3 1358.4L1130.2 1380.4M1615.2 1380.4L1615.7 1349.1L1617 1345.4L1618 1356.6L1618.3 1317.4L1619.5 1309.9L1621.3 1309L1622.1 1314.6L1622.8 1272.6L1623.6 1252.1L1625.1 1237.2L1626.9 1231.6L1628.2 1220.4L1630.1 1218.5L1632 1219.5L1633.3 1226.9L1635.1 1232.5L1636.6 1239.1L1638.1 1248.4L1638.9 1272.6L1639.4 1282.9L1640.7 1283.8L1641.8 1264.2L1643.7 1264.2L1644.5 1277.3L1645.9 1274.5L1647.4 1268.9L1649.3 1268.5L1650.1 1278.2L1651.2 1283.8L1651.9 1289.4L1652.5 1304.3L1653 1330.4L1653 1380.4"/>
</g>
<text class="an" x="367.7" y="106.6">H<tspan class="sup" dx="-0.3" dy="-20.4">+</tspan></text>
<text class="an" x="494.9" y="122">C<tspan class="sup" dx="-0.3" dy="-20.4">+</tspan></text>
<text class="an" x="675" y="103.8">Na<tspan class="sup" dx="-0.6" dy="-20.4">+</tspan></text>
<text class="an" x="890.1" y="103.8">K<tspan class="sup" dx="-0.3" dy="-20.4">+</tspan></text>
<text class="an" x="1598" y="122.6">Nb<tspan class="sup" dx="-0.6" dy="-20.4">+</tspan></text>
<text class="an" x="1737.5" y="234.9">NbC<tspan class="sup" dx="-0.9" dy="-20.4">+</tspan></text>
<text class="an" x="1815.8" y="171.9">NbO<tspan class="sup" dx="-0.9" dy="-20.4">+</tspan></text>
<text class="an" x="377.7" y="629.6">H<tspan class="sup" dx="-0.3" dy="-20.4">+</tspan></text>
<text class="an" x="497.9" y="645.5">C<tspan class="sup" dx="-0.3" dy="-20.4">+</tspan></text>
<text class="an" x="666.9" y="626.9">Na<tspan class="sup" dx="-0.6" dy="-20.4">+</tspan></text>
<text class="an" x="863.1" y="649.8">K<tspan class="sup" dx="-0.3" dy="-20.4">+</tspan></text>
<text class="an" x="1605.4" y="636.7">Nb<tspan class="sup" dx="-0.6" dy="-20.4">+</tspan></text>
<text class="an" x="1740.1" y="752.7">NbC<tspan class="sup" dx="-0.9" dy="-20.4">+</tspan></text>
<text class="an" x="1807.8" y="689.9">NbO<tspan class="sup" dx="-0.9" dy="-20.4">+</tspan></text>
<text class="an" x="362.8" y="1193.4">H<tspan class="sup" dx="-0.3" dy="-20.4">+</tspan></text>
<text class="an" x="491.8" y="1188.2">C<tspan class="sup" dx="-0.3" dy="-20.4">+</tspan></text>
<text class="an" x="634.8" y="1165.4">Na<tspan class="sup" dx="-0.6" dy="-20.4">+</tspan></text>
<text class="an" x="863.1" y="1168.6">K<tspan class="sup" dx="-0.3" dy="-20.4">+</tspan></text>
<text class="an" x="1604.5" y="1195.6">Nb<tspan class="sup" dx="-0.6" dy="-20.4">+</tspan></text>
<text class="an" x="1735.1" y="1287.2">NbC<tspan class="sup" dx="-0.9" dy="-20.4">+</tspan></text>
<text class="an" x="1820.8" y="1229.7">NbO<tspan class="sup" dx="-0.9" dy="-20.4">+</tspan></text>
<text class="ttl" x="2131.9" y="135">AR</text>
<text class="ttl" x="2135.7" y="661">EP</text>
<text class="ttl" x="2124.8" y="1195">MEP</text>
<text class="ttl" x="1321" y="1564" text-anchor="middle">m/z [D]</text>
<text class="ttl" transform="translate(63.5 706) rotate(-90)" text-anchor="middle">Positive secondary ion current [counts]</text>
<g style="font-family:'Liberation Serif', 'Times New Roman', serif">
<text transform="translate(1138.7 1698) scale(1 1.1)" style="font-family:'Liberation Serif', 'Times New Roman', serif;font-size:78px">(</text>
<text x="1165.3" y="1697.2" style="font-family:'Liberation Serif', 'Times New Roman', serif;font-size:84px;font-weight:bold">a</text>
<text transform="translate(1206.8 1698) scale(1 1.1)" style="font-family:'Liberation Serif', 'Times New Roman', serif;font-size:78px">)</text>
</g>
</svg></body></html>
